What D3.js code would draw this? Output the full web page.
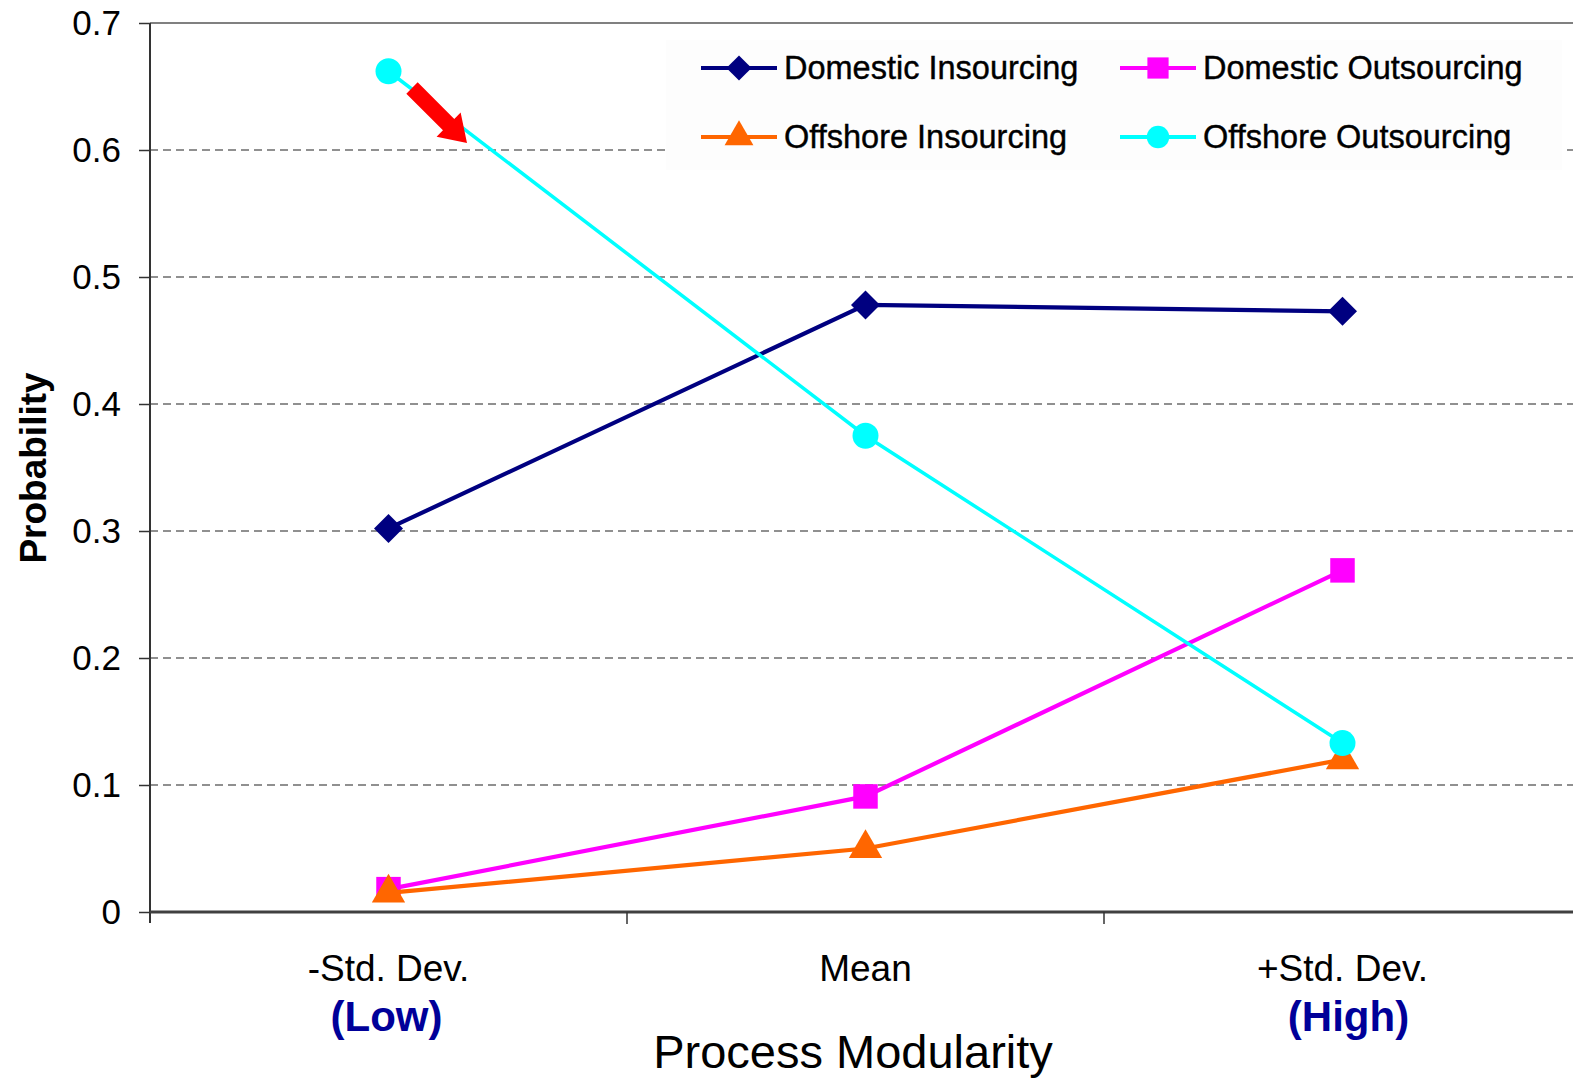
<!DOCTYPE html>
<html>
<head>
<meta charset="utf-8">
<script src="https://cdn.jsdelivr.net/npm/d3@7"></script>
<style>
  html, body { margin: 0; padding: 0; background: #ffffff; }
  svg { display: block; }
  text { font-family: "Liberation Sans", Arial, sans-serif; }
</style>
</head>
<body>
<svg id="chart" width="1573" height="1082"></svg>
<script>
// ---- data ----
const categories = ["-Std. Dev.", "Mean", "+Std. Dev."];
const subLabels = ["(Low)", "", "(High)"];
const yTicks = [0, 0.1, 0.2, 0.3, 0.4, 0.5, 0.6, 0.7];
const seriesNames = ["Domestic Insourcing", "Domestic Outsourcing", "Offshore Insourcing", "Offshore Outsourcing"];
const domesticInsourcing = [0.302, 0.478, 0.473];
const domesticOutsourcing = [0.018, 0.091, 0.269];
const offshoreInsourcing = [0.015, 0.050, 0.120];
const offshoreOutsourcing = [0.662, 0.375, 0.133];
const seriesColors = ["#000080", "#FF00FF", "#FF6600", "#00FFFF"];

// square diamond (rotated square) symbol
const symbolRotSquare = {
  draw(ctx, size) {
    const r = Math.sqrt(size / 2);
    ctx.moveTo(0, -r); ctx.lineTo(r, 0); ctx.lineTo(0, r); ctx.lineTo(-r, 0); ctx.closePath();
  }
};
const seriesSymbols = [symbolRotSquare, d3.symbolSquare, d3.symbolTriangle, d3.symbolCircle];
const seriesValues = [domesticInsourcing, domesticOutsourcing, offshoreInsourcing, offshoreOutsourcing];

// ---- layout ----
const svg = d3.select("#chart");
const pLeft = 150, pRight = 1581, pTop = 23, pBottom = 912;

const x = d3.scaleBand().domain(categories).range([pLeft, pRight]).padding(0);
const y = d3.scaleLinear().domain([0, 0.7]).range([pBottom, pTop]);
const cx = c => x(c) + x.bandwidth() / 2;

// gridlines
svg.append("g").selectAll("line")
  .data(yTicks.filter(t => t > 0 && t < 0.7))
  .join("line")
  .attr("x1", pLeft).attr("x2", 1573)
  .attr("y1", d => y(d)).attr("y2", d => y(d))
  .attr("stroke", "#222").attr("stroke-width", 1.2)
  .attr("stroke-dasharray", "8,5");

// top border
svg.append("line").attr("x1", pLeft).attr("x2", 1573).attr("y1", y(0.7)).attr("y2", y(0.7))
  .attr("stroke", "#808080").attr("stroke-width", 2);

// legend background (covers gridlines)
svg.append("rect").attr("x", 666).attr("y", 40).attr("width", 896).attr("height", 130)
  .attr("fill", "#fdfdfd");

// y axis
const yAxis = d3.axisLeft(y).tickValues(yTicks).tickFormat(d => d === 0 ? "0" : d3.format(".1f")(d))
  .tickSize(11).tickPadding(18);
const gy = svg.append("g").attr("transform", `translate(${pLeft},0)`).call(yAxis);
gy.select(".domain").attr("stroke", "#333").attr("stroke-width", 2).attr("d", `M0,${pTop}V${pBottom + 11}`);
gy.selectAll(".tick line").attr("stroke", "#333").attr("stroke-width", 1.5);
gy.selectAll(".tick text").attr("font-size", 35).attr("fill", "#000")
  .attr("font-family", "'Liberation Sans', Arial, sans-serif");

// x axis
const xAxis = d3.axisBottom(x).tickValues([]).tickSize(0);
const gx = svg.append("g").attr("transform", `translate(0,${pBottom})`).call(xAxis);
gx.select(".domain").attr("stroke", "#404040").attr("stroke-width", 3).attr("d", `M${pLeft},0H1573`);
gx.selectAll(".sep").data(categories.slice(1)).join("line").attr("class", "sep")
  .attr("x1", d => x(d)).attr("x2", d => x(d)).attr("y1", 0).attr("y2", 12)
  .attr("stroke", "#333").attr("stroke-width", 1.5);

// category labels
svg.append("g").selectAll("text").data(categories).join("text")
  .attr("x", d => cx(d)).attr("y", 981).attr("text-anchor", "middle")
  .attr("font-size", 37).attr("fill", "#000").text(d => d);
svg.append("g").selectAll("text").data(categories).join("text")
  .attr("x", (d, i) => cx(d) + (i === 2 ? 6 : -2)).attr("y", 1031).attr("text-anchor", "middle")
  .attr("font-size", 42).attr("font-weight", "bold").attr("fill", "#000099")
  .text((d, i) => subLabels[i]);

// axis titles
svg.append("text").attr("x", 853).attr("y", 1068).attr("text-anchor", "middle")
  .attr("font-size", 47).attr("fill", "#000").text("Process Modularity");
svg.append("text").attr("transform", "translate(46,468) rotate(-90)").attr("text-anchor", "middle")
  .attr("font-size", 37).attr("font-weight", "bold").attr("fill", "#000").text("Probability");

// series
const line = d3.line().x((d, i) => cx(categories[i])).y(d => y(d));
const symSizes = [420, 600, 480, 530];
seriesValues.forEach((vals, si) => {
  const g = svg.append("g");
  g.append("path").datum(vals).attr("d", line).attr("fill", "none")
    .attr("stroke", seriesColors[si]).attr("stroke-width", si === 3 ? 3.5 : 4.2);
  g.selectAll("path.m").data(vals).join("path").attr("class", "m")
    .attr("transform", (d, i) => `translate(${cx(categories[i])},${y(d)})`)
    .attr("d", d3.symbol().type(seriesSymbols[si]).size(symSizes[si]))
    .attr("fill", seriesColors[si]);
});

// red arrow annotation
const ax1 = 412, ay1 = 88, ax2 = 467, ay2 = 143;
const ang = Math.atan2(ay2 - ay1, ax2 - ax1);
const len = Math.hypot(ax2 - ax1, ay2 - ay1);
const bw = 8, hw = 17, hl = 26;
const pts = [[0, -bw], [len - hl, -bw], [len - hl, -hw], [len, 0], [len - hl, hw], [len - hl, bw], [0, bw]];
svg.append("polygon")
  .attr("points", pts.map(p => p.join(",")).join(" "))
  .attr("transform", `translate(${ax1},${ay1}) rotate(${ang * 180 / Math.PI})`)
  .attr("fill", "#FF0000");

// legend
const legX = [701, 1120], legY = [68, 137];
seriesNames.forEach((name, i) => {
  const lx = legX[i % 2], ly = legY[Math.floor(i / 2)];
  const g = svg.append("g");
  g.append("line").attr("x1", lx).attr("x2", lx + 76).attr("y1", ly).attr("y2", ly)
    .attr("stroke", seriesColors[i]).attr("stroke-width", 4);
  g.append("path").attr("transform", `translate(${lx + 38},${ly})`)
    .attr("d", d3.symbol().type(seriesSymbols[i]).size(symSizes[i] * 0.75))
    .attr("fill", seriesColors[i]);
  g.append("text").attr("x", lx + 83).attr("y", ly + 11).attr("font-size", 32.5)
    .attr("fill", "#000").attr("stroke", "#000").attr("stroke-width", 0.4).text(name);
});
</script>
</body>
</html>
